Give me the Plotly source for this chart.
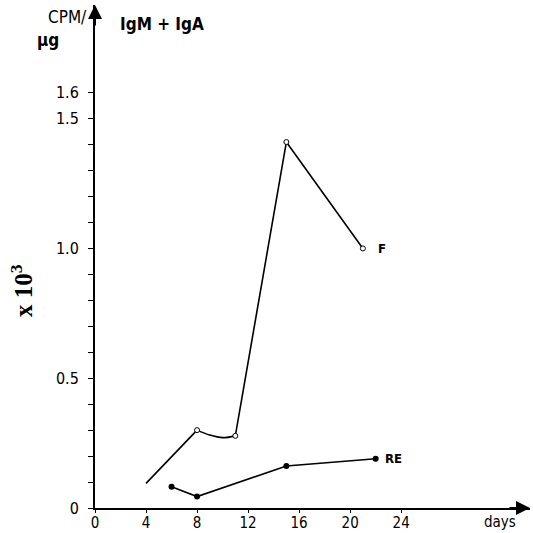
import plotly.graph_objects as go

# ---- data ----
F_days = [4, 8, 11, 15, 21]
F_vals = [0.095, 0.30, 0.278, 1.41, 1.0]
# the drawn sag between day 8 and day 11
F_curve_days = [8, 9, 10, 11]
F_curve_vals = [0.30, 0.281, 0.271, 0.278]
RE_days = [6, 8, 15, 22]
RE_vals = [0.082, 0.044, 0.162, 0.19]

x_tick_vals = [0, 4, 8, 12, 16, 20, 24]
y_tick_vals = [round(i * 0.1, 1) for i in range(17)]
y_label_map = {0.0: "0", 0.5: "0.5", 1.0: "1.0", 1.5: "1.5", 1.6: "1.6"}
y_tick_text = [y_label_map.get(v, "") for v in y_tick_vals]

FONT = "Liberation Sans Narrow, DejaVu Sans Condensed, Arial Narrow, sans-serif"

fig = go.Figure()

# F line: linear segments except the curved sag 8 -> 11
fx = [F_days[0], F_days[1], None] + F_days[2:]
fy = [F_vals[0], F_vals[1], None] + F_vals[2:]
fig.add_trace(go.Scatter(x=fx, y=fy, mode="lines",
                         line=dict(color="black", width=1.6),
                         connectgaps=False, hoverinfo="skip"))
fig.add_trace(go.Scatter(x=F_curve_days, y=F_curve_vals, mode="lines",
                         line=dict(color="black", width=1.6, shape="spline"),
                         hoverinfo="skip"))
fig.add_trace(go.Scatter(x=F_days[1:], y=F_vals[1:], mode="markers",
                         marker=dict(symbol="circle", size=5, color="white",
                                     line=dict(color="black", width=1)),
                         cliponaxis=False))
# RE
fig.add_trace(go.Scatter(x=RE_days, y=RE_vals, mode="lines+markers",
                         line=dict(color="black", width=1.6),
                         marker=dict(symbol="circle", size=6, color="black"),
                         cliponaxis=False))

fig.update_layout(
    template="none",
    width=533, height=533,
    margin=dict(l=95, r=3, t=5, b=25, autoexpand=False),
    paper_bgcolor="white", plot_bgcolor="white",
    showlegend=False,
    font=dict(family=FONT, size=16, color="black"),
    xaxis=dict(range=[0, 34.1], tickvals=x_tick_vals,
               ticktext=[str(v) for v in x_tick_vals],
               ticks="outside", ticklen=3, tickwidth=1, tickcolor="black",
               showline=True, linecolor="black", linewidth=2,
               showgrid=False, zeroline=False, automargin=False,
               ticklabelstandoff=-3,
               tickfont=dict(family=FONT, size=15)),
    yaxis=dict(range=[0, 1.938], tickvals=y_tick_vals, ticktext=y_tick_text,
               ticks="outside", ticklen=5, tickwidth=1, tickcolor="black",
               showline=True, linecolor="black", linewidth=2,
               showgrid=False, zeroline=False, automargin=False,
               ticklabelstandoff=6,
               tickfont=dict(family=FONT, size=16)),
)

anns = [
    dict(text="CPM/", x=-0.014, y=0.977, xref="paper", yref="paper",
         xanchor="right", yanchor="middle", showarrow=False,
         font=dict(family=FONT, size=17)),
    dict(text="<b>µg</b>", x=-0.138, y=0.931, xref="paper", yref="paper",
         xanchor="left", yanchor="middle", showarrow=False,
         font=dict(family=FONT, size=17)),
    dict(text="<b>IgM + IgA</b>", x=0.053, y=0.963, xref="paper", yref="paper",
         xanchor="left", yanchor="middle", showarrow=False,
         font=dict(family=FONT, size=17)),
    dict(text="<b>x 10<sup>3</sup></b>", x=-0.168, y=0.433, xref="paper", yref="paper",
         xanchor="center", yanchor="middle", showarrow=False, textangle=-90,
         font=dict(family="Liberation Serif, DejaVu Serif, serif", size=25)),
    dict(text="days", x=0.931, y=-0.027, xref="paper", yref="paper",
         xanchor="center", yanchor="middle", showarrow=False,
         font=dict(family=FONT, size=15)),
    dict(text="<b>F</b>", x=F_days[-1], y=F_vals[-1], xref="x", yref="y",
         xanchor="left", yanchor="middle", xshift=13, showarrow=False,
         font=dict(family=FONT, size=13)),
    dict(text="<b>RE</b>", x=RE_days[-1], y=RE_vals[-1], xref="x", yref="y",
         xanchor="left", yanchor="middle", xshift=7, showarrow=False,
         font=dict(family=FONT, size=13)),
    # axis arrowheads
    dict(text="", x=0, y=1, xref="paper", yref="paper", ax=0, ay=22,
         showarrow=True, arrowhead=2, arrowsize=1.4, arrowwidth=2, arrowcolor="black"),
    dict(text="", x=1, y=0, xref="paper", yref="paper", ax=-22, ay=0,
         showarrow=True, arrowhead=2, arrowsize=1.4, arrowwidth=2, arrowcolor="black"),
]
fig.update_layout(annotations=anns)

fig.write_html("out.html",
               config={"displayModeBar": False},
               post_script="document.body.style.margin='0';document.body.style.overflow='hidden';")
